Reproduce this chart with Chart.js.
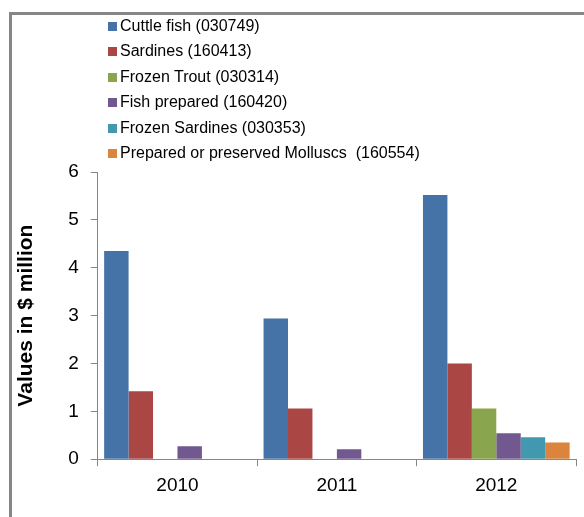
<!DOCTYPE html>
<html>
<head>
<meta charset="utf-8">
<script src="https://cdn.jsdelivr.net/npm/chart.js@4/dist/chart.umd.min.js"></script>
<style>
    html, body { margin: 0; padding: 0; background: #fff; }
    #wrap { position: relative; width: 584px; height: 517px; overflow: hidden; }
    #frame { position: absolute; left: 9px; top: 12px; width: 620px; height: 540px; border: 3px solid #868686; box-sizing: border-box; }
    #legend { position: absolute; left: 108px; top: 13px; font-family: "Liberation Sans", Arial, sans-serif; font-size: 16px; color: #000; }
    #legend div { height: 25.4px; line-height: 25.4px; white-space: pre; }
    #legend span { display: inline-block; width: 9px; height: 9px; margin-right: 3px; vertical-align: 0px; }
    canvas { position: absolute; left: 0; top: 0; }
</style>
</head>
<body>
<div id="wrap">
    <div id="frame"></div>
    <canvas id="chart" width="584" height="517"></canvas>
    <div id="legend"></div>
</div>
<script>
const years = ['2010', '2011', '2012'];
const seriesNames = [
    'Cuttle fish (030749)',
    'Sardines (160413)',
    'Frozen Trout (030314)',
    'Fish prepared (160420)',
    'Frozen Sardines (030353)',
    'Prepared or preserved Molluscs  (160554)'
];
const cuttleFish = [4.35, 2.94, 5.52];
const sardines = [1.42, 1.06, 2.0];
const frozenTrout = [null, null, 1.06];
const fishPrepared = [0.27, 0.21, 0.54];
const frozenSardines = [null, null, 0.46];
const molluscs = [null, null, 0.35];
const colors = ['#4572A7', '#AA4643', '#89A54E', '#71588F', '#4198AF', '#DB843D'];
const yTicks = [0, 1, 2, 3, 4, 5, 6];

const allValues = [cuttleFish, sardines, frozenTrout, fishPrepared, frozenSardines, molluscs];

const ctx = document.getElementById('chart').getContext('2d');
const chart = new Chart(ctx, {
    type: 'bar',
    data: {
        labels: years,
        datasets: seriesNames.map((name, i) => ({
            label: name,
            data: allValues[i],
            backgroundColor: colors[i],
            borderWidth: 0
        }))
    },
    options: {
        responsive: false,
        animation: false,
        categoryPercentage: 0.92,
        barPercentage: 1,
        layout: { padding: { top: 172, left: 14, right: 8, bottom: 12 } },
        plugins: {
            legend: { display: false },
            tooltip: { enabled: false }
        },
        scales: {
            x: {
                grid: { drawOnChartArea: false, drawTicks: true, tickLength: 7, color: '#868686', offset: true },
                border: { color: '#868686', width: 1 },
                ticks: { color: '#000', padding: 8, font: { family: '"Liberation Sans", Arial', size: 19 } }
            },
            y: {
                min: 0,
                max: 6,
                afterBuildTicks: axis => { axis.ticks = yTicks.map(v => ({ value: v })); },
                grid: { drawOnChartArea: false, drawTicks: true, tickLength: 7, color: '#868686' },
                border: { color: '#868686', width: 1 },
                ticks: { color: '#000', padding: 12, font: { family: '"Liberation Sans", Arial', size: 19 } },
                title: {
                    display: true,
                    text: 'Values in $ million',
                    color: '#000',
                    padding: { top: 0, bottom: 17 },
                    font: { family: '"Liberation Sans", Arial', size: 21, weight: 'bold' }
                }
            }
        }
    }
});

// legend drawn as a vertical html list
const legend = document.getElementById('legend');
chart.data.datasets.forEach(ds => {
    const row = document.createElement('div');
    const box = document.createElement('span');
    box.style.background = ds.backgroundColor;
    row.appendChild(box);
    row.appendChild(document.createTextNode(ds.label));
    legend.appendChild(row);
});
</script>
</body>
</html>
